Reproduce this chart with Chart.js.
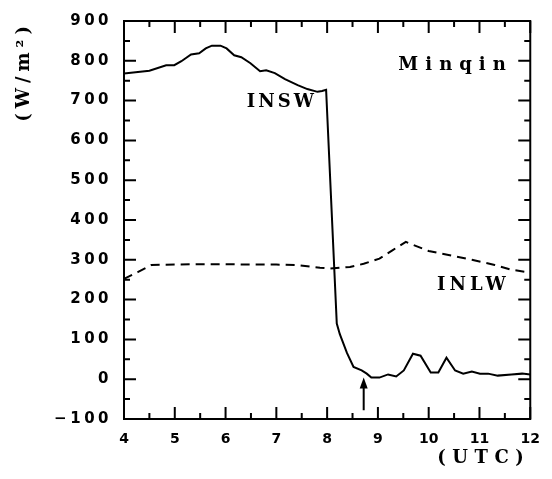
<!DOCTYPE html>
<html>
<head>
<meta charset="utf-8">
<script src="https://cdn.jsdelivr.net/npm/chart.js@4.4.0/dist/chart.umd.min.js"></script>
<style>
  html, body { margin: 0; padding: 0; background: #fff; }
  #wrap { width: 552px; height: 479px; }
</style>
</head>
<body>
<div id="wrap"><canvas id="c" width="552" height="479"></canvas></div>
<script>
// Incoming shortwave radiation at Minqin (W/m²) against time (UTC hours)
const inswHours  = [4.00, 4.50, 4.83, 4.99, 5.13, 5.32, 5.48, 5.61, 5.73, 5.90, 6.02, 6.17, 6.31, 6.49, 6.68, 6.80, 6.97, 7.17, 7.42, 7.61, 7.81, 7.90, 7.98,
                    8.19, 8.25, 8.39, 8.52, 8.68, 8.78, 8.87, 9.03, 9.20, 9.36, 9.51, 9.69, 9.84, 10.04, 10.19, 10.35, 10.52, 10.68, 10.85, 11.01, 11.17, 11.36, 11.63, 11.84, 12.00];
const inswValues = [768, 775, 789, 789, 799, 816, 819, 831, 838, 838, 831, 814, 809, 794, 774, 776, 769, 754, 739, 729, 722, 724, 727,
                    140, 113, 66, 31, 22, 14, 4, 4, 12, 7, 22, 64, 59, 17, 17, 54, 22, 14, 19, 14, 14, 9, 12, 14, 12];

// Incoming longwave radiation (W/m²)
const inlwHours  = [4.00, 4.27, 4.54, 5.00, 5.50, 6.00, 6.50, 7.00, 7.40, 7.86, 8.06, 8.45, 8.72, 9.03, 9.30, 9.55, 10.00, 10.39, 10.85, 11.30, 11.63, 12.00];
const inlwValues = [252, 269, 287, 288, 289, 289, 288, 288, 287, 280, 278, 282, 290, 303, 325, 345, 322, 312, 300, 287, 275, 268];

// Axis ranges and tick steps
const xRange = [4, 12];
const yRange = [-100, 900];
const xStep = 1;
const yStep = 100;

// Text labels placed in data coordinates (hour, W/m² at text baseline)
const curveLabels = [
  { text: 'INSW',   hour: 7.08,  value: 684, spacing: 3 },
  { text: 'INLW',   hour: 10.84, value: 223, spacing: 4 },
  { text: 'Minqin', hour: 10.46, value: 776, spacing: 7 }
];
// Arrow marking the time of the event (hour, from value, to value)
const arrowMark = { hour: 8.72, from: -78, to: 4 };

const serifFont = 'DejaVu Serif';
const serifWeight = 'bold';
const toPoints = (xs, ys) => xs.map((x, i) => ({ x: x, y: ys[i] }));

// Wraps a scale drawing method so its text is drawn with extra letter spacing
function spaced(fn, spacing) {
  return function () {
    const ctx = this.ctx;
    const prev = ctx.letterSpacing;
    ctx.letterSpacing = spacing;
    fn.apply(this, arguments);
    ctx.letterSpacing = prev;
  };
}
function spaceScale(scale, labelSpacing, titleSpacing) {
  if (scale._spacedText) return;
  scale.drawLabels = spaced(scale.drawLabels, labelSpacing);
  scale.drawTitle = spaced(scale.drawTitle, titleSpacing);
  scale._spacedText = true;
}

// Frame, inward tick marks on all four sides, arrow and curve labels
const framePlugin = {
  id: 'frame',
  afterDatasetsDraw(chart) {
    const { ctx, chartArea: a } = chart;
    const xs = chart.scales.x, ys = chart.scales.y;
    ctx.save();
    ctx.strokeStyle = '#000';
    ctx.lineWidth = 2;
    ctx.lineCap = 'butt';
    ctx.strokeRect(a.left, a.top, a.right - a.left, a.bottom - a.top);

    ctx.beginPath();
    for (let h = xRange[0]; h <= xRange[1] + 1e-9; h += xStep / 2) {
      const px = xs.getPixelForValue(h);
      const len = Math.abs(h - Math.round(h)) < 1e-6 ? 12 : 6;
      ctx.moveTo(px, a.bottom); ctx.lineTo(px, a.bottom - len);
      ctx.moveTo(px, a.top);    ctx.lineTo(px, a.top + len);
    }
    for (let v = yRange[0]; v <= yRange[1] + 1e-9; v += yStep / 2) {
      const py = ys.getPixelForValue(v);
      const len = v % yStep === 0 ? 12 : 6;
      ctx.moveTo(a.left, py);  ctx.lineTo(a.left + len, py);
      ctx.moveTo(a.right, py); ctx.lineTo(a.right - len, py);
    }
    ctx.stroke();

    // arrow
    const ax = xs.getPixelForValue(arrowMark.hour);
    const ay0 = ys.getPixelForValue(arrowMark.from);
    const ay1 = ys.getPixelForValue(arrowMark.to);
    ctx.beginPath();
    ctx.moveTo(ax, ay0); ctx.lineTo(ax, ay1 + 8);
    ctx.stroke();
    ctx.beginPath();
    ctx.moveTo(ax, ay1);
    ctx.lineTo(ax - 4, ay1 + 11);
    ctx.lineTo(ax + 4, ay1 + 11);
    ctx.closePath();
    ctx.fillStyle = '#000';
    ctx.fill();

    // labels
    ctx.font = serifWeight + ' 18px "' + serifFont + '"';
    ctx.textAlign = 'center';
    ctx.textBaseline = 'alphabetic';
    curveLabels.forEach(l => {
      ctx.letterSpacing = l.spacing + 'px';
      ctx.fillText(l.text, xs.getPixelForValue(l.hour) + l.spacing / 2, ys.getPixelForValue(l.value));
    });
    ctx.restore();
  }
};

new Chart(document.getElementById('c'), {
  type: 'line',
  data: {
    datasets: [
      {
        label: 'INSW',
        data: toPoints(inswHours, inswValues),
        borderColor: '#000',
        borderWidth: 2,
        pointRadius: 0,
        tension: 0,
        fill: false
      },
      {
        label: 'INLW',
        data: toPoints(inlwHours, inlwValues),
        borderColor: '#000',
        borderWidth: 2,
        borderDash: [9, 6],
        pointRadius: 0,
        tension: 0,
        fill: false
      }
    ]
  },
  options: {
    responsive: false,
    animation: false,
    devicePixelRatio: 1,
    layout: { padding: { left: 0, top: 16, right: 17, bottom: 0 } },
    plugins: { legend: { display: false }, tooltip: { enabled: false } },
    scales: {
      x: {
        type: 'linear',
        min: xRange[0],
        max: xRange[1],
        grid: { display: false, drawTicks: false },
        border: { display: false },
        ticks: {
          stepSize: xStep,
          autoSkip: false,
          maxRotation: 0,
          padding: 12,
          color: '#000',
          font: { family: 'DejaVu Sans', weight: 'bold', size: 14 }
        },
        title: {
          display: true,
          text: '(UTC)',
          align: 'end',
          color: '#000',
          padding: { top: 0, bottom: 10 },
          font: { family: serifFont, weight: serifWeight, size: 18 }
        },
        afterFit(scale) { scale.height = 60; spaceScale(scale, '0px', '6.5px'); }
      },
      y: {
        type: 'linear',
        min: yRange[0],
        max: yRange[1],
        grid: { display: false, drawTicks: false },
        border: { display: false },
        ticks: {
          stepSize: yStep,
          autoSkip: false,
          padding: 12,
          color: '#000',
          font: { family: 'DejaVu Sans', weight: 'bold', size: 15 },
          callback: v => (v < 0 ? '\u2212' + Math.abs(v) : String(v))
        },
        title: {
          display: true,
          text: '(W/m²)',
          align: 'end',
          color: '#000',
          padding: { top: 14, bottom: 0 },
          font: { family: serifFont, weight: serifWeight, size: 18 }
        },
        afterFit(scale) { scale.width = 124; spaceScale(scale, '3.5px', '5px'); }
      }
    }
  },
  plugins: [framePlugin]
});
</script>
</body>
</html>
